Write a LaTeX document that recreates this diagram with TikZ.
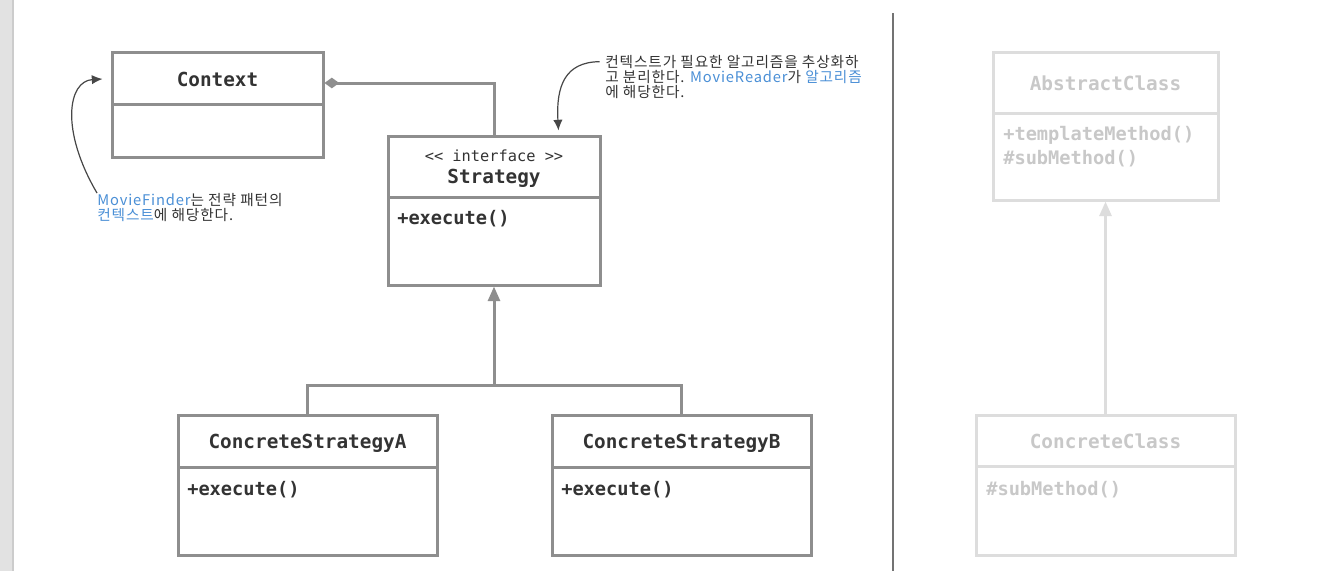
\documentclass[tikz,border=0pt]{standalone}
\usepackage{fontspec}
\setmonofont{DejaVu Sans Mono}
\newfontfamily\notefont[LetterSpace=6]{Noto Sans CJK KR}
\usepackage{tikz}
\usetikzlibrary{arrows.meta,calc,positioning,fit}
\definecolor{boxgray}{HTML}{8E8E8E}
\definecolor{ghostgray}{HTML}{DDDDDD}
\definecolor{ghosttext}{HTML}{C8C8C8}
\definecolor{inkgray}{HTML}{333333}
\definecolor{noteblue}{HTML}{4A8FD6}
\definecolor{stripgray}{HTML}{E2E2E2}
\tikzset{
  classbox/.style={draw=boxgray,line width=2.25pt,inner sep=0pt},
  classline/.style={draw=boxgray,line width=2.25pt},
  ghostbox/.style={draw=ghostgray,line width=2.25pt,inner sep=0pt},
  ghostline/.style={draw=ghostgray,line width=2.25pt},
  classname/.style={font=\ttfamily\bfseries\fontsize{14.5}{17}\selectfont,text=inkgray,inner sep=0pt,text height=0.75em,text depth=0.2em,yshift=-3pt},
  member/.style={font=\ttfamily\bfseries\fontsize{14}{17}\selectfont,text=inkgray,inner sep=0pt,anchor=west,text height=0.75em,text depth=0.2em,yshift=-3pt},
  stereo/.style={font=\ttfamily\fontsize{11.5}{13}\selectfont,text=inkgray,inner sep=0pt,yshift=-1pt},
  note/.style={font=\notefont\fontsize{11}{11.25}\selectfont,text=inkgray,align=left,inner sep=0pt,anchor=north west},
  notearrow/.style={draw=inkgray!90,line width=0.9pt,-{Latex[length=8pt,width=7pt]}},
  inherit/.style={draw=boxgray,line width=2.25pt,-{Triangle[length=11pt,width=9pt]}}
}
\begin{document}
\begin{tikzpicture}[x=0.75pt,y=-0.75pt]
\useasboundingbox (0,0) rectangle (1331,571);
\fill[white] (0,0) rectangle (1331,571);
\fill[stripgray] (0,0) rectangle (13,571);
\draw[black!20,line width=1.2pt] (13,0) -- (13,571);
\draw[black!55,line width=1.8pt] (893,13) -- (893,571);

\node[classbox,fit={(112,52) (323,157)}] (ctx) {};
\draw[classline] (112,104) -- (323,104);
\node[classname] (ctxname) at (217.5,79) {Context};

\node[classbox,fit={(388,136) (600,285)}] (strat) {};
\draw[classline] (388,197) -- (600,197);
\node[stereo] (stratstereo) at (494,154) {<< interface >>};
\node[classname] (stratname) at (494,176) {Strategy};
\node[member] (stratexec) at (397,217) {+execute()};

\node[classbox,fit={(178,415) (437,555)}] (csa) {};
\draw[classline] (178,467) -- (437,467);
\node[classname] (csaname) at (307.5,441) {ConcreteStrategyA};
\node[member] (csaexec) at (187,488) {+execute()};

\node[classbox,fit={(552,415) (811,555)}] (csb) {};
\draw[classline] (552,467) -- (811,467);
\node[classname] (csbname) at (681.5,441) {ConcreteStrategyB};
\node[member] (csbexec) at (561,488) {+execute()};

\draw[classline,-{Diamond[length=11pt,width=8pt]}] (strat.north) |- (ctx.east |- ctxname);
\coordinate (join) at (494,385);
\draw[classline] (csa.north) |- (join) -| (csb.north);
\draw[inherit] (join) -- (strat.south);

\node[note] (notectx) at (97,193) {{\color{noteblue}MovieFinder}는 전략 패턴의\\{\color{noteblue}컨텍스트}에 해당한다.};
\draw[notearrow] (notectx.north west) .. controls (60,130) and (68,81) .. ([xshift=-6pt,yshift=3pt]ctx.west |- ctxname);
\node[note] (notestrat) at (605,55) {컨텍스트가 필요한 알고리즘을 추상화하\\고 분리한다. {\color{noteblue}MovieReader}가 {\color{noteblue}알고리즘}\\에 해당한다.};
\draw[notearrow] ([yshift=-5pt,xshift=-4pt]notestrat.north west) .. controls (565,62) and (556,86) .. ([yshift=3pt]$(strat.north east)!0.4!(strat.north)$);

\node[ghostbox,fit={(993,52) (1218,200)}] (abs) {};
\draw[ghostline] (993,113) -- (1218,113);
\node[classname,text=ghosttext] (absname) at (1105.5,83) {AbstractClass};
\node[member,text=ghosttext] (abstmpl) at (1003,133) {+templateMethod()};
\node[member,text=ghosttext] (abssub) at (1003,157) {\#subMethod()};

\node[ghostbox,fit={(976,415) (1235,555)}] (conc) {};
\draw[ghostline] (976,466) -- (1235,466);
\node[classname,text=ghosttext] (concname) at (1105.5,441) {ConcreteClass};
\node[member,text=ghosttext] (concsub) at (986,488) {\#subMethod()};

\draw[ghostline,-{Triangle[length=11pt,width=9pt]}] (conc.north) -- (abs.south);
\end{tikzpicture}
\end{document}
